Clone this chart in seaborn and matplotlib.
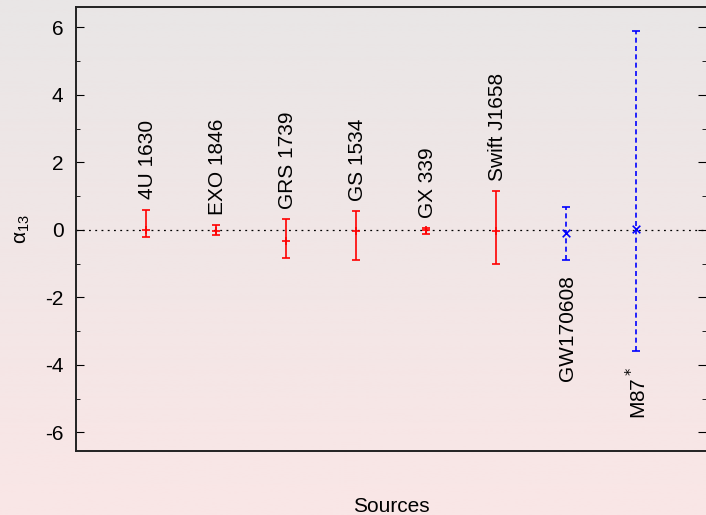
import numpy as np
import pandas as pd
import seaborn as sns
import matplotlib.pyplot as plt

# data
sources = ['4U 1630', 'EXO 1846', 'GRS 1739', 'GS 1534', 'GX 339',
           'Swift J1658', 'GW170608', 'M87$^*$']
kind = ['xrb'] * 6 + ['other'] * 2
alpha13 = [0.0, -0.02, -0.32, -0.02, -0.01, -0.03, -0.10, 0.02]
upper = [0.60, 0.14, 0.33, 0.55, 0.05, 1.15, 0.68, 5.90]
lower = [-0.20, -0.15, -0.84, -0.90, -0.12, -1.02, -0.90, -3.60]

df = pd.DataFrame({'source': sources, 'kind': kind, 'alpha13': alpha13,
                   'upper': upper, 'lower': lower})
df['pos'] = np.arange(1, len(df) + 1)

sns.set_style('ticks')
plt.rcParams['font.family'] = ['Liberation Sans', 'DejaVu Sans']
plt.rcParams['mathtext.fontset'] = 'dejavusans'
plt.rcParams['axes.unicode_minus'] = False
plt.rcParams['text.color'] = 'black'
plt.rcParams['axes.labelcolor'] = 'black'
plt.rcParams['ytick.color'] = 'black'

fig = plt.figure(figsize=(7.06, 5.15), dpi=100)

# background gradient grey -> pink
bg = fig.add_axes([0, 0, 1, 1], zorder=-10)
grad = np.linspace(0, 1, 256)[:, None]
top = np.array([233, 230, 230]) / 255
bot = np.array([250, 230, 230]) / 255
img = top[None, None, :] * (1 - grad[:, :, None]) + bot[None, None, :] * grad[:, :, None]
bg.imshow(img, aspect='auto', extent=[0, 1, 0, 1])
bg.axis('off')

ax = fig.add_axes([76 / 706, 64 / 515, 630 / 706, 444 / 515])
ax.set_facecolor('none')

ax.axhline(0, color='black', lw=0.9, ls=(0, (1.5, 3.5)), zorder=1)

styles = {'xrb': dict(color='red', ls='-'),
          'other': dict(color='blue', ls=(0, (3, 2)))}
for k, sub in df.groupby('kind'):
    st = styles[k]
    yerr = [sub['alpha13'] - sub['lower'], sub['upper'] - sub['alpha13']]
    eb = ax.errorbar(sub['pos'], sub['alpha13'], yerr=yerr, fmt='none',
                     ecolor=st['color'], elinewidth=1.2, capsize=3,
                     capthick=1.2, zorder=3)
    eb[2][0].set_linestyle(st['ls'])
sns.scatterplot(data=df[df.kind == 'xrb'], x='pos', y='alpha13', marker='+',
                color='red', s=40, linewidth=1.2, ax=ax, zorder=4)
sns.scatterplot(data=df[df.kind == 'other'], x='pos', y='alpha13', marker='x',
                color='blue', s=30, linewidth=1.2, ax=ax, zorder=4)

# source names
for _, r in df.iterrows():
    if r['kind'] == 'xrb':
        ax.text(r['pos'] + 0.02, r['upper'] + 0.3, r['source'], rotation=90,
                ha='center', va='bottom', fontsize=15)
    else:
        ax.text(r['pos'] + 0.02, r['lower'] - 0.45, r['source'], rotation=90,
                ha='center', va='top', fontsize=15)

ax.set_xlim(0, 9)
ax.set_ylim(-6.55, 6.6)
ax.set_xticks([])
ax.set_yticks(np.arange(-6, 7, 2))
ax.set_yticks(np.arange(-5, 7, 2), minor=True)
ax.tick_params(axis='y', which='both', direction='in', left=True, right=True,
               labelsize=15, pad=9)
ax.tick_params(axis='y', which='major', length=6)
ax.tick_params(axis='y', which='minor', length=3)
for s in ['left', 'top', 'bottom']:
    ax.spines[s].set_linewidth(1.4)
    ax.spines[s].set_color('#222222')
ax.spines['right'].set_visible(False)

ax.set_xlabel('Sources', fontsize=15, labelpad=33)
ax.set_ylabel(r'$\mathregular{\alpha_{13}}$', fontsize=15, labelpad=9)

plt.savefig('out.png', dpi=100)
